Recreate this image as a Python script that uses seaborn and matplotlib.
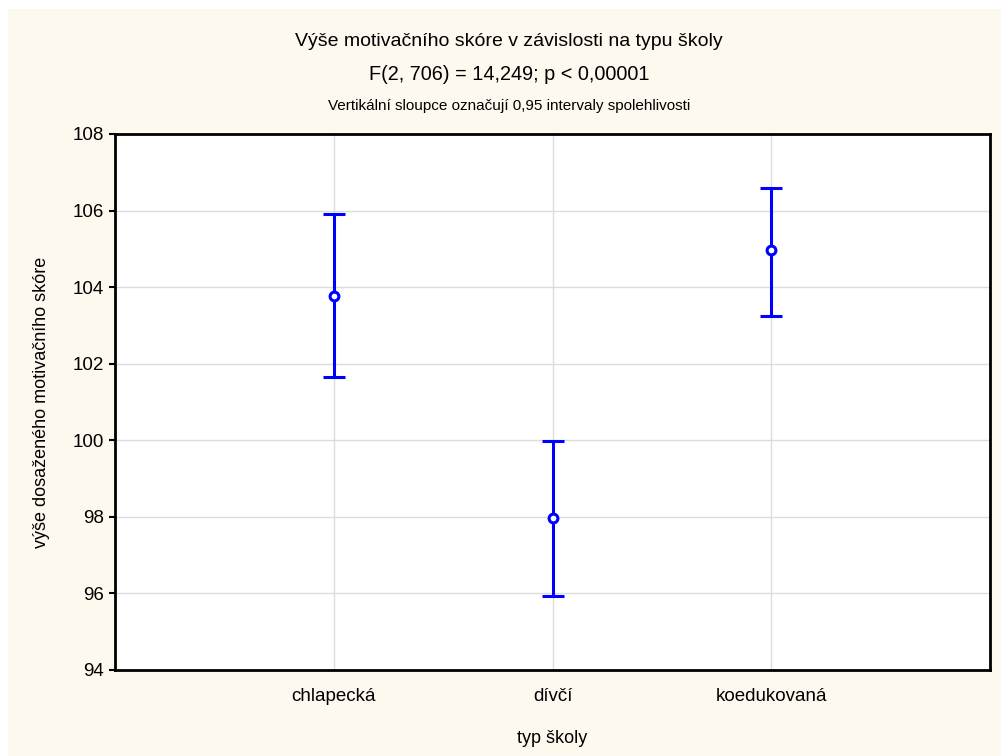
import matplotlib
matplotlib.use('Agg')
import matplotlib.pyplot as plt
import seaborn as sns
import pandas as pd
from matplotlib.patches import Rectangle

# data
school_types = ['chlapecká', 'dívčí', 'koedukovaná']
means = [103.78, 97.98, 104.96]
ci_low = [101.65, 95.92, 103.24]
ci_high = [105.90, 99.99, 106.60]
y_ticks = [94, 96, 98, 100, 102, 104, 106, 108]

df = pd.DataFrame({'typ': school_types, 'mean': means, 'low': ci_low, 'high': ci_high})

sns.set_theme(style='white')
plt.rcParams['font.family'] = ['Liberation Sans', 'DejaVu Sans']
plt.rcParams['text.color'] = 'black'
plt.rcParams['axes.labelcolor'] = 'black'
plt.rcParams['xtick.color'] = 'black'
plt.rcParams['ytick.color'] = 'black'

BLUE = '#0000FF'
CREAM = '#FEF9EE'

fig = plt.figure(figsize=(10.01, 7.56), dpi=100)
fig.patch.set_facecolor('white')
fig.patches.append(Rectangle((8 / 1001, 0), 1, 1 - 9 / 756, transform=fig.transFigure,
                             facecolor=CREAM, edgecolor='none', zorder=-10))

ax = fig.add_axes([115 / 1001, 1 - 670 / 756, 875 / 1001, 536 / 756])
ax.set_facecolor('white')

yerr = [df['mean'] - df['low'], df['high'] - df['mean']]
ax.errorbar(df['typ'], df['mean'], yerr=yerr, fmt='none', ecolor=BLUE,
            elinewidth=2.2, capsize=8, capthick=2.2, zorder=3)
sns.scatterplot(data=df, x='typ', y='mean', ax=ax, marker='o', s=40,
                facecolor='white', edgecolor=BLUE, linewidth=2.2, zorder=4)

ax.set_xlim(-1, 3)
ax.set_ylim(94, 108)
ax.set_yticks(y_ticks)
ax.grid(True, color='#DCDCDC', linewidth=1)
ax.set_axisbelow(True)
for s in ax.spines.values():
    s.set_color('black')
    s.set_linewidth(2)
ax.tick_params(axis='y', length=4, width=1.5, color='black', pad=4, labelsize=13.5, left=True)
ax.tick_params(axis='x', length=0, pad=13, labelsize=13.5)
ax.set_xlabel('typ školy', fontsize=13, labelpad=18)
ax.set_ylabel('výše dosaženého motivačního skóre', fontsize=13, labelpad=16)

cx = 509 / 1001
fig.text(cx, 1 - 42 / 756, 'Výše motivačního skóre v závislosti na typu školy',
         ha='center', va='center', fontsize=14)
fig.text(cx, 1 - 75 / 756, 'F(2, 706) = 14,249; p < 0,00001',
         ha='center', va='center', fontsize=14.3)
fig.text(cx, 1 - 106 / 756, 'Vertikální sloupce označují 0,95 intervaly spolehlivosti',
         ha='center', va='center', fontsize=11,
         family=['Liberation Sans Narrow', 'Liberation Sans', 'DejaVu Sans'])

fig.savefig('out.png', dpi=100, facecolor=fig.get_facecolor())
